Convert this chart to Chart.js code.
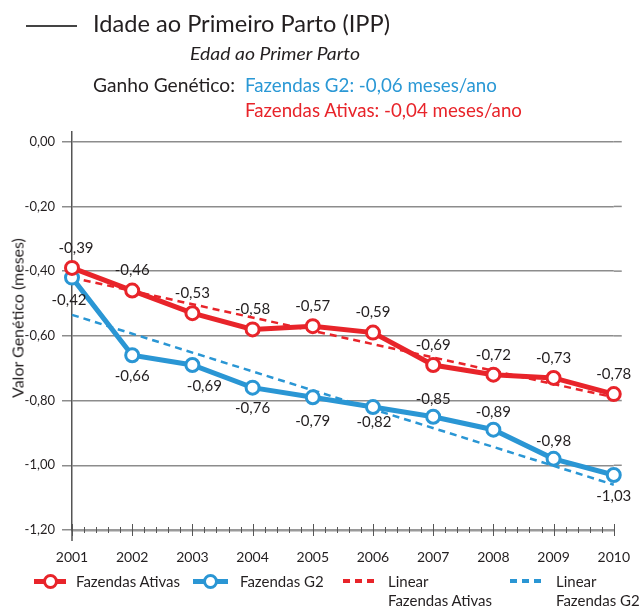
<!DOCTYPE html>
<html>
<head>
<meta charset="utf-8">
<script src="https://cdn.jsdelivr.net/npm/chart.js@4.4.1/dist/chart.umd.min.js"></script>
<style>
body { margin: 0; background: #fff; font-family: Lato, sans-serif; color: #231f20; }
#wrap { position: relative; width: 641px; height: 607px; overflow: hidden; }
#myChart { position: absolute; left: 0; top: 0; }
.txt { position: absolute; white-space: nowrap; line-height: 1; transform-origin: 0 0; }
#traco { position: absolute; left: 26px; top: 25px; width: 51px; height: 1.5px; background: #444; }
#eixoY { position: absolute; left: 17px; top: 318px; font-size: 16px; white-space: nowrap;
         transform: translate(-50%, -50%) rotate(-90deg); }
.leg { position: absolute; font-size: 15px; line-height: 19px; white-space: nowrap; }
.marca { position: absolute; height: 5px; }
.marca i { position: absolute; left: 50%; top: 50%; width: 9px; height: 9px; margin: -7.5px 0 0 -7.5px;
           border: 3px solid; border-radius: 50%; background: #fff; }
</style>
</head>
<body>
<div id="wrap">
  <canvas id="myChart" width="641" height="607"></canvas>
  <div id="traco"></div>
  <div class="txt" data-w="297" style="left:93px; top:11px; font-size:24px;">Idade ao Primeiro Parto (IPP)</div>
  <div class="txt" data-w="170" style="left:190px; top:44px; font-size:18px; font-style:italic;">Edad ao Primer Parto</div>
  <div class="txt" data-w="142" style="left:93px; top:75px; font-size:19.5px;">Ganho Genético:</div>
  <div class="txt" data-w="252" style="left:245px; top:75px; font-size:19.5px; color:#2a98d5;">Fazendas G2: -0,06 meses/ano</div>
  <div class="txt" data-w="277" style="left:245px; top:100px; font-size:19.5px; color:#e8242a;">Fazendas Ativas: -0,04 meses/ano</div>
  <div id="eixoY">Valor Genético (meses)</div>
  <div id="legenda"></div>
</div>
<script>
// Idade ao Primeiro Parto - valor genético por ano

const anos = [2001, 2002, 2003, 2004, 2005, 2006, 2007, 2008, 2009, 2010];
const fazendasAtivas = [-0.39, -0.46, -0.53, -0.58, -0.57, -0.59, -0.69, -0.72, -0.73, -0.78];
const fazendasG2 = [-0.42, -0.66, -0.69, -0.76, -0.79, -0.82, -0.85, -0.89, -0.98, -1.03];
// tendência linear: valor em 2001 e em 2010
const linearAtivas = [-0.42, -0.79];
const linearG2 = [-0.535, -1.06];
const valoresEixoY = [0, -0.2, -0.4, -0.6, -0.8, -1.0, -1.2];

const vermelho = '#e8242a';
const azul = '#2a96d4';

const fmt = (v) => v.toFixed(2).replace('.', ',');

// posição dos rótulos (cima / baixo) e pequenos ajustes
const rotuloG2 = ['b', 'b', 'b', 'b', 'b', 'b', 'c', 'c', 'c', 'b'];
const ajusteG2 = [[-3, 2], [0, 0], [12, 0], [0, 0], [0, 3], [1, -6], [0, 0], [0, 0], [0, 0], [0, 0]];

const pontos = (vals) => vals.map((v, i) => ({ x: anos[i], y: v }));
const tendencia = (vals) => [{ x: anos[0], y: vals[0] }, { x: anos[anos.length - 1], y: vals[1] }];

const eixos = {
    id: 'eixos',
    beforeDatasetsDraw(chart) {
        // as linhas de grade passam um pouco do último ano
        const { ctx, chartArea, scales: { y } } = chart;
        ctx.save();
        ctx.strokeStyle = '#8c8c8c';
        ctx.lineWidth = 1.5;
        valoresEixoY.slice(0, -1).forEach((v) => {
            const py = y.getPixelForValue(v);
            ctx.beginPath();
            ctx.moveTo(chartArea.right, py);
            ctx.lineTo(chartArea.right + 8, py);
            ctx.stroke();
        });
        ctx.restore();
    },
    afterDraw(chart) {
        const { ctx, chartArea, scales: { x } } = chart;
        const y0 = chartArea.bottom;
        ctx.save();
        // prolongamento do eixo Y abaixo do eixo X
        ctx.strokeStyle = '#555';
        ctx.lineWidth = 1.5;
        ctx.beginPath();
        ctx.moveTo(chartArea.left, y0);
        ctx.lineTo(chartArea.left, y0 + 11);
        ctx.stroke();
        // marcas do eixo X
        ctx.lineWidth = 1;
        anos.forEach((a, i) => {
            const px = Math.round(x.getPixelForValue(a)) + 0.5;
            ctx.beginPath();
            ctx.moveTo(px, y0 - 6);
            ctx.lineTo(px, y0 + 6);
            ctx.stroke();
            if (i == anos.length - 1) return;
            for (let k = 1; k < 5; k++) {
                const pm = Math.round(x.getPixelForValue(a + k / 5)) + 0.5;
                ctx.beginPath();
                ctx.moveTo(pm, y0 - 3);
                ctx.lineTo(pm, y0 + 3);
                ctx.stroke();
            }
        });
        ctx.restore();
    }
};

const rotulos = {
    id: 'rotulos',
    afterDatasetsDraw(chart) {
        const ctx = chart.ctx;
        ctx.save();
        ctx.font = '15px Lato';
        ctx.fillStyle = '#231f20';
        ctx.textAlign = 'center';
        ctx.textBaseline = 'middle';
        chart.getDatasetMeta(0).data.forEach((p, i) => {
            ctx.fillText(fmt(fazendasAtivas[i]), p.x + (i == 0 ? 4 : 0), p.y - 20);
        });
        chart.getDatasetMeta(1).data.forEach((p, i) => {
            const dy = rotuloG2[i] == 'b' ? 21 : -18;
            ctx.fillText(fmt(fazendasG2[i]), p.x + ajusteG2[i][0], p.y + dy + ajusteG2[i][1]);
        });
        ctx.restore();
    }
};

const ctx = document.getElementById('myChart').getContext('2d');

const myChart = new Chart(ctx, {
    type: 'line',
    data: {
        datasets: [{
            label: 'Fazendas Ativas',
            data: pontos(fazendasAtivas),
            borderColor: vermelho,
            borderWidth: 5,
            pointRadius: 6.5,
            pointBorderWidth: 3,
            pointBackgroundColor: '#fff',
            pointBorderColor: vermelho,
            clip: false
        }, {
            label: 'Fazendas G2',
            data: pontos(fazendasG2),
            borderColor: azul,
            borderWidth: 5,
            pointRadius: 6.5,
            pointBorderWidth: 3,
            pointBackgroundColor: '#fff',
            pointBorderColor: azul,
            clip: false
        }, {
            label: 'Linear|Fazendas Ativas',
            data: tendencia(linearAtivas),
            borderColor: vermelho,
            borderWidth: 2.5,
            borderDash: [7, 5],
            pointRadius: 0,
            clip: false
        }, {
            label: 'Linear|Fazendas G2',
            data: tendencia(linearG2),
            borderColor: azul,
            borderWidth: 2.5,
            borderDash: [7, 5],
            pointRadius: 0,
            clip: false
        }]
    },
    options: {
        responsive: false,
        animation: false,
        layout: {
            padding: { top: 132, right: 21, left: 0, bottom: 0 }
        },
        plugins: {
            legend: { display: false },
            tooltip: { enabled: false }
        },
        scales: {
            x: {
                type: 'linear',
                min: 2001,
                max: 2010,
                afterBuildTicks: (ax) => { ax.ticks = anos.map(v => ({ value: v })) },
                afterFit: (s) => { s.height = 77 },
                grid: { display: false },
                border: { color: '#9a9a9a', width: 2.5 },
                ticks: {
                    color: '#231f20',
                    font: { family: 'Lato', size: 14 },
                    padding: 11,
                    maxRotation: 0,
                    callback: (v) => String(v)
                }
            },
            y: {
                min: -1.2,
                max: 0.03,
                afterBuildTicks: (ax) => { ax.ticks = valoresEixoY.map(v => ({ value: v })) },
                afterFit: (s) => { s.width = 72 },
                grid: { color: '#8c8c8c', lineWidth: 1.5, tickLength: 10 },
                border: { color: '#555', width: 1.5 },
                ticks: {
                    color: '#231f20',
                    font: { family: 'Lato', size: 13 },
                    padding: 7,
                    callback: (v) => fmt(v)
                }
            }
        }
    },
    plugins: [eixos, rotulos]
});

// legenda montada a partir dos datasets
const legPos = [[34, 32, 76], [193, 35, 240], [343, 31, 388], [510, 31, 556]];
const legenda = document.getElementById('legenda');
myChart.data.datasets.forEach((ds, i) => {
    const [mx, mw, tx] = legPos[i];
    const m = document.createElement('div');
    m.className = 'marca';
    m.style.left = mx + 'px';
    m.style.top = (581 - 2.5) + 'px';
    m.style.width = mw + 'px';
    if (ds.borderDash) {
        m.style.height = '4px';
        m.style.background = 'repeating-linear-gradient(90deg,' + ds.borderColor + ' 0 7px, transparent 7px 12px)';
    } else {
        m.style.background = ds.borderColor;
        const c = document.createElement('i');
        c.style.borderColor = ds.borderColor;
        m.appendChild(c);
    }
    legenda.appendChild(m);
    const t = document.createElement('div');
    t.className = 'leg';
    t.style.left = tx + 'px';
    t.style.top = (581 - 9.5) + 'px';
    t.innerHTML = ds.label.split('|').join('<br>');
    legenda.appendChild(t);
});

// comprime os textos do cabeçalho para a largura do original
document.querySelectorAll('.txt[data-w]').forEach((el) => {
    const w = el.getBoundingClientRect().width;
    el.style.transform = 'scaleX(' + (parseFloat(el.dataset.w) / w).toFixed(3) + ')';
});
</script>
</body>
</html>
